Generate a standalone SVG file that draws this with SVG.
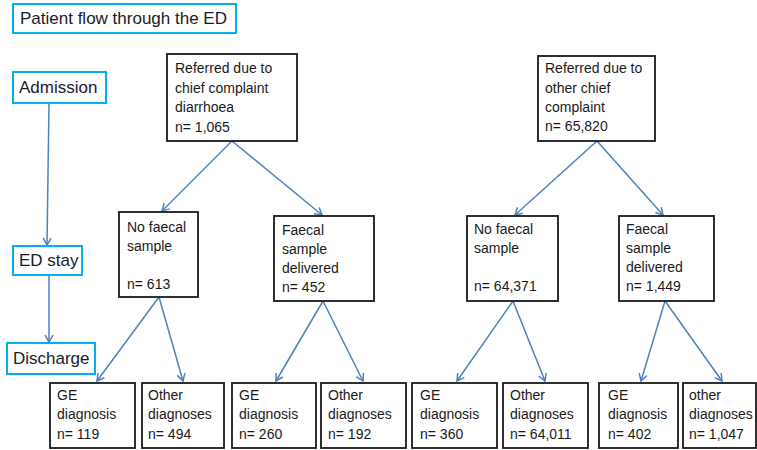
<svg xmlns="http://www.w3.org/2000/svg" width="757" height="450" viewBox="0 0 757 450">
<defs>
<marker id="ah" markerWidth="10" markerHeight="10" refX="8" refY="5" orient="auto" markerUnits="userSpaceOnUse">
<path d="M1,1 L8,5 L1,9" fill="none" stroke="#4f81bd" stroke-width="1.5"/>
</marker>
<style>
.lb{fill:#fff;stroke:#00b0f0;stroke-width:2}
.bx{fill:#fff;stroke:#1a1a1a;stroke-width:1.8}
.t{font-family:"Liberation Sans",Arial,sans-serif;font-size:14px;fill:#1a1a1a}
.tl{font-family:"Liberation Sans",Arial,sans-serif;font-size:17px;fill:#1a1a2a}
.c{stroke:#4f81bd;stroke-width:1.5;fill:none;marker-end:url(#ah)}
</style>
</defs>
<rect width="757" height="450" fill="#fff"/>
<g id="connectors">
<line class="c" x1="49" y1="103" x2="47" y2="245"/>
<line class="c" x1="49" y1="275" x2="49" y2="342"/>
<line class="c" x1="232" y1="141" x2="162" y2="211"/>
<line class="c" x1="232" y1="141" x2="322" y2="215"/>
<line class="c" x1="597" y1="141" x2="515" y2="215"/>
<line class="c" x1="597" y1="141" x2="663" y2="215"/>
<line class="c" x1="159" y1="297" x2="97" y2="381"/>
<line class="c" x1="159" y1="297" x2="183" y2="381"/>
<line class="c" x1="323" y1="301" x2="276" y2="381"/>
<line class="c" x1="323" y1="301" x2="363" y2="381"/>
<line class="c" x1="513" y1="301" x2="457" y2="381"/>
<line class="c" x1="513" y1="301" x2="545" y2="381"/>
<line class="c" x1="665" y1="301" x2="641" y2="381"/>
<line class="c" x1="665" y1="301" x2="722" y2="381"/>
</g>
<g id="title"><rect class="lb" x="13" y="4" width="223" height="29"/><text class="tl" x="20" y="24">Patient flow through the ED</text></g>
<g id="admission"><rect class="lb" x="13" y="72" width="93" height="31"/><text class="tl" x="19" y="93">Admission</text></g>
<g id="edstay"><rect class="lb" x="13" y="246" width="69" height="29"/><text class="tl" x="19" y="266">ED stay</text></g>
<g id="discharge"><rect class="lb" x="7" y="343" width="88" height="31"/><text class="tl" x="13" y="364">Discharge</text></g>
<g id="diarrhoea"><rect class="bx" x="167" y="54" width="130" height="87"/><text class="t" x="175" y="73">Referred due to</text><text class="t" x="175" y="93">chief complaint</text><text class="t" x="175" y="112">diarrhoea</text><text class="t" x="175" y="132">n= 1,065</text></g>
<g id="other"><rect class="bx" x="538" y="56" width="117" height="85"/><text class="t" x="545" y="73">Referred due to</text><text class="t" x="545" y="93">other chief</text><text class="t" x="545" y="112">complaint</text><text class="t" x="545" y="131">n= 65,820</text></g>
<g id="nofaecal1"><rect class="bx" x="119" y="212" width="79" height="85"/><text class="t" x="127" y="232">No faecal</text><text class="t" x="127" y="251">sample</text><text class="t" x="127" y="289">n= 613</text></g>
<g id="faecal1"><rect class="bx" x="274" y="216" width="100" height="85"/><text class="t" x="282" y="235">Faecal</text><text class="t" x="282" y="254">sample</text><text class="t" x="282" y="273">delivered</text><text class="t" x="282" y="292">n= 452</text></g>
<g id="nofaecal2"><rect class="bx" x="467" y="216" width="91" height="85"/><text class="t" x="474" y="234">No faecal</text><text class="t" x="474" y="253">sample</text><text class="t" x="474" y="291">n= 64,371</text></g>
<g id="faecal2"><rect class="bx" x="619" y="216" width="95" height="85"/><text class="t" x="626" y="234">Faecal</text><text class="t" x="626" y="253">sample</text><text class="t" x="626" y="272">delivered</text><text class="t" x="626" y="291">n= 1,449</text></g>
<g id="ge1"><rect class="bx" x="50" y="383" width="85" height="65"/><text class="t" x="57" y="400">GE</text><text class="t" x="57" y="419">diagnosis</text><text class="t" x="57" y="439">n= 119</text></g>
<g id="oth1"><rect class="bx" x="142" y="383" width="82" height="65"/><text class="t" x="148" y="400">Other</text><text class="t" x="148" y="419">diagnoses</text><text class="t" x="148" y="439">n= 494</text></g>
<g id="ge2"><rect class="bx" x="232" y="383" width="84" height="65"/><text class="t" x="239" y="400">GE</text><text class="t" x="239" y="419">diagnosis</text><text class="t" x="239" y="439">n= 260</text></g>
<g id="oth2"><rect class="bx" x="321" y="383" width="85" height="65"/><text class="t" x="328" y="400">Other</text><text class="t" x="328" y="419">diagnoses</text><text class="t" x="328" y="439">n= 192</text></g>
<g id="ge3"><rect class="bx" x="412" y="383" width="85" height="65"/><text class="t" x="420" y="400">GE</text><text class="t" x="420" y="419">diagnosis</text><text class="t" x="420" y="439">n= 360</text></g>
<g id="oth3"><rect class="bx" x="503" y="383" width="85" height="65"/><text class="t" x="510" y="400">Other</text><text class="t" x="510" y="419">diagnoses</text><text class="t" x="510" y="439">n= 64,011</text></g>
<g id="ge4"><rect class="bx" x="599" y="383" width="79" height="65"/><text class="t" x="608" y="400">GE</text><text class="t" x="608" y="419">diagnosis</text><text class="t" x="608" y="439">n= 402</text></g>
<g id="oth4"><rect class="bx" x="683" y="383" width="73" height="65"/><text class="t" x="689" y="400">other</text><text class="t" x="689" y="419">diagnoses</text><text class="t" x="689" y="439">n= 1,047</text></g>
</svg>
